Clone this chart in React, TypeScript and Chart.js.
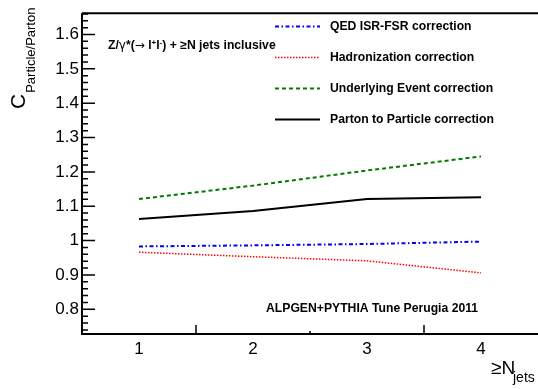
import React, { useEffect, useRef } from "react";
import { Chart, registerables } from "chart.js";

Chart.register(...registerables);

const nJets = [1, 2, 3, 4];
const qedValues = [0.983, 0.986, 0.99, 0.997];
const hadronValues = [0.966, 0.953, 0.941, 0.906];
const ueValues = [1.121, 1.16, 1.204, 1.245];
const partonValues = [1.063, 1.086, 1.121, 1.126];
const yTickValues = [0.8, 0.9, 1.0, 1.1, 1.2, 1.3, 1.4, 1.5, 1.6];
const xTickValues = [1, 2, 3, 4];
const seriesLabels = [
  "QED ISR-FSR correction",
  "Hadronization correction",
  "Underlying Event correction",
  "Parton to Particle correction",
];

const FONT = "'Liberation Sans', Arial, Helvetica, sans-serif";
const SYM = "'DejaVu Sans', sans-serif";

type Seg = { t: string; size: number; bold?: boolean; dy?: number; fam?: string };

function drawSegs(ctx: CanvasRenderingContext2D, segs: Seg[], x: number, y: number) {
  let cx = x;
  for (const s of segs) {
    ctx.font = `${s.bold ? "bold " : ""}${s.size}px ${s.fam || FONT}`;
    ctx.fillText(s.t, cx, y + (s.dy || 0));
    cx += ctx.measureText(s.t).width;
  }
}

const decorPlugin = {
  id: "rootDecor",
  afterDraw(chart: any) {
    const ctx: CanvasRenderingContext2D = chart.ctx;
    const area = chart.chartArea;
    const xs = chart.scales.x;
    const ys = chart.scales.y;
    ctx.save();
    ctx.strokeStyle = "#000";
    ctx.fillStyle = "#000";
    // frame
    ctx.lineWidth = 2;
    ctx.beginPath();
    ctx.moveTo(area.left, area.top);
    ctx.lineTo(area.right + 2, area.top);
    ctx.moveTo(area.left, area.top);
    ctx.lineTo(area.left, area.bottom);
    ctx.lineTo(area.right + 2, area.bottom);
    ctx.stroke();
    // y ticks
    ctx.lineWidth = 1.5;
    ctx.beginPath();
    for (let i = 0; i <= 60; i++) {
      const v = 0.6 + i * 0.02;
      if (v < ys.min || v > ys.max) continue;
      const major = Math.abs(v * 10 - Math.round(v * 10)) < 1e-6;
      const py = ys.getPixelForValue(v);
      ctx.moveTo(area.left, py);
      ctx.lineTo(area.left + (major ? 13 : 6), py);
    }
    // x ticks
    const xt = [
      [1.5, 9],
      [2.5, 3],
      [3.5, 9],
    ];
    for (const [v, len] of xt) {
      const px = xs.getPixelForValue(v);
      ctx.moveTo(px, area.bottom);
      ctx.lineTo(px, area.bottom - len);
    }
    ctx.stroke();

    // y title
    ctx.save();
    ctx.translate(25, 0);
    ctx.rotate(-Math.PI / 2);
    ctx.textBaseline = "alphabetic";
    ctx.textAlign = "left";
    ctx.font = `21px ${FONT}`;
    ctx.fillText("C", -109, 0);
    const cw = ctx.measureText("C").width;
    ctx.font = `13px ${FONT}`;
    ctx.fillText("Particle/Parton", -109 + cw + 1, 10);
    ctx.restore();

    // x title
    ctx.textAlign = "left";
    ctx.textBaseline = "alphabetic";
    drawSegs(ctx, [{ t: "\u2265N", size: 19 }], 491, 374);
    drawSegs(ctx, [{ t: "jets", size: 14 }], 513, 382);

    // process label
    drawSegs(
      ctx,
      [
        { t: "Z/", size: 12.2, bold: true },
        { t: "\u03b3", size: 12, fam: SYM },
        { t: "*(", size: 12.2, bold: true },
        { t: "\u2192", size: 12, fam: SYM },
        { t: " l", size: 12.2, bold: true },
        { t: "+", size: 8, bold: true, dy: -4 },
        { t: "l", size: 12.2, bold: true },
        { t: "-", size: 8, bold: true, dy: -4 },
        { t: ") + \u2265N jets inclusive", size: 12.2, bold: true },
      ],
      108,
      49
    );

    // generator label
    drawSegs(ctx, [{ t: "ALPGEN+PYTHIA Tune Perugia 2011", size: 12.2, bold: true }], 266, 312);

    // legend
    const rows = [26.5, 57.5, 88.5, 119.5];
    chart.data.datasets.forEach((ds: any, i: number) => {
      const y = rows[i];
      ctx.save();
      ctx.strokeStyle = ds.borderColor;
      ctx.lineWidth = ds.borderWidth;
      ctx.setLineDash(ds.borderDash || []);
      ctx.beginPath();
      ctx.moveTo(275, y);
      ctx.lineTo(320, y);
      ctx.stroke();
      ctx.restore();
      ctx.font = `bold 12.2px ${FONT}`;
      ctx.textBaseline = "middle";
      ctx.fillText(ds.label, 330, y);
    });
    ctx.restore();
  },
};

export default function App() {
  const ref = useRef<HTMLCanvasElement>(null);
  useEffect(() => {
    if (!ref.current) return;
    const mk = (vals: number[]) => nJets.map((x, i) => ({ x, y: vals[i] }));
    const chart = new Chart(ref.current, {
      type: "line",
      data: {
        datasets: [
          {
            label: seriesLabels[0],
            data: mk(qedValues),
            borderColor: "#0000ff",
            borderWidth: 2,
            borderDash: [4, 2.5, 1.5, 2.5],
            pointRadius: 0,
            tension: 0,
          },
          {
            label: seriesLabels[1],
            data: mk(hadronValues),
            borderColor: "#ff0000",
            borderWidth: 1.5,
            borderDash: [1.5, 1.5],
            pointRadius: 0,
            tension: 0,
          },
          {
            label: seriesLabels[2],
            data: mk(ueValues),
            borderColor: "#007a00",
            borderWidth: 2,
            borderDash: [4, 3],
            pointRadius: 0,
            tension: 0,
          },
          {
            label: seriesLabels[3],
            data: mk(partonValues),
            borderColor: "#000000",
            borderWidth: 2,
            pointRadius: 0,
            tension: 0,
          },
        ],
      },
      options: {
        responsive: false,
        animation: false,
        events: [],
        layout: { padding: { top: 2, right: 0, bottom: 0, left: 0 } },
        plugins: { legend: { display: false }, tooltip: { enabled: false } },
        scales: {
          x: {
            type: "linear",
            min: 0.5,
            max: 4.5,
            grid: { display: false, drawTicks: false },
            border: { display: false },
            afterFit: (s: any) => {
              s.height = 55;
            },
            afterBuildTicks: (s: any) => {
              s.ticks = xTickValues.map((v) => ({ value: v }));
            },
            ticks: {
              padding: 5,
              color: "#000",
              font: { family: FONT, size: 17 },
              maxRotation: 0,
              autoSkip: false,
              callback: (v: any) => String(v),
            },
          },
          y: {
            type: "linear",
            min: 0.728,
            max: 1.662,
            grid: { display: false, drawTicks: false },
            border: { display: false },
            afterFit: (s: any) => {
              s.width = 82;
            },
            afterBuildTicks: (s: any) => {
              s.ticks = yTickValues.map((v) => ({ value: v }));
            },
            ticks: {
              padding: 3,
              color: "#000",
              font: { family: FONT, size: 17 },
              autoSkip: false,
              callback: (v: any) => String(Number(Number(v).toFixed(1))),
            },
          },
        },
      },
      plugins: [decorPlugin],
    });
    return () => chart.destroy();
  }, []);
  return (
    <div style={{ position: "fixed", left: 0, top: 0, width: 538, height: 389, background: "#fff" }}>
      <canvas ref={ref} width={538} height={389} style={{ display: "block" }} />
    </div>
  );
}
